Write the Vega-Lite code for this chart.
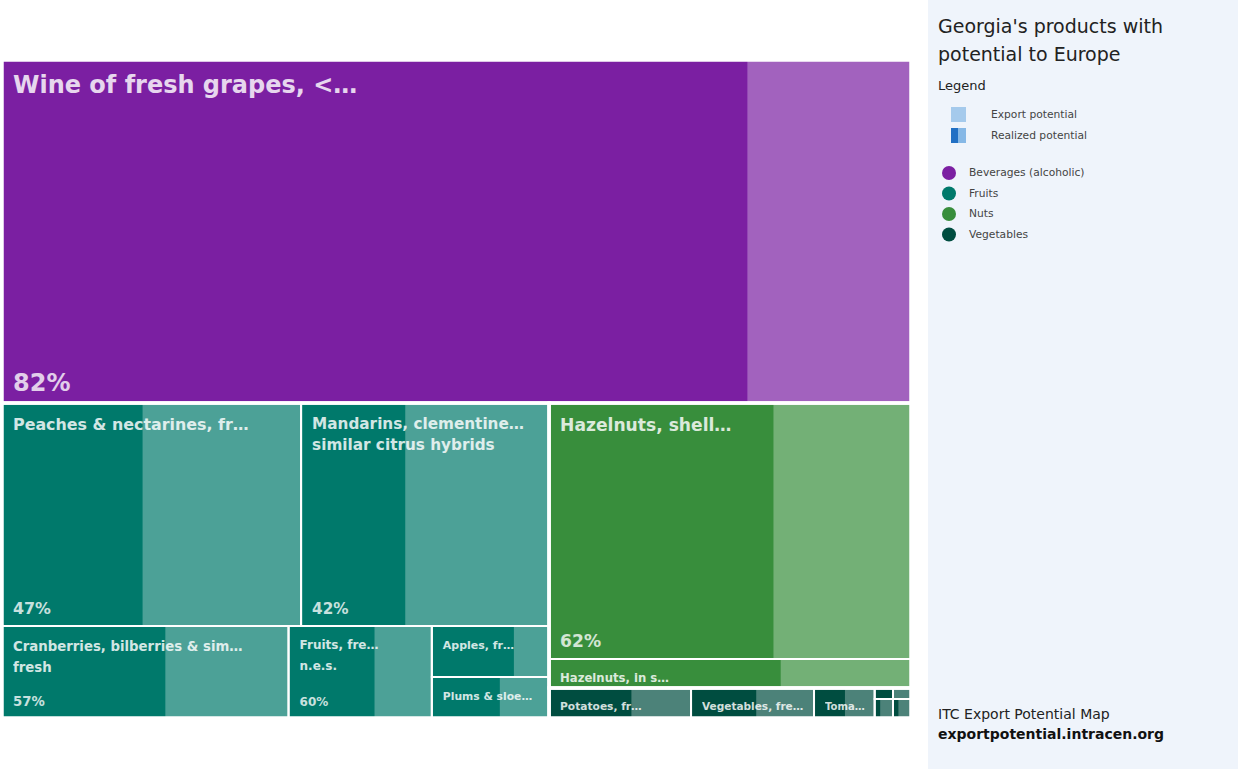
{
  "$schema": "https://vega.github.io/schema/vega-lite/v6.json",
  "padding": 0,
  "background": "#eff4fb",
  "spacing": 0,
  "bounds": "flush",
  "config": {"view": {"stroke": null}, "font": "DejaVu Sans"},
  "title": {
    "text": ["Georgia's products with", "potential to Europe"],
    "anchor": "start",
    "frame": "bounds",
    "orient": "top",
    "baseline": "top",
    "offset": 0,
    "dx": 938,
    "dy": 65,
    "fontSize": 19,
    "fontWeight": "normal",
    "font": "DejaVu Sans",
    "color": "#222222",
    "lineHeight": 28
  },
  "datasets": {
    "tiles": [
      {"name": "Wine of fresh grapes, <…", "cat": "Beverages (alcoholic)", "value": 311.8, "realized": 0.82, "band": 1, "col": 1, "row": 1, "cell": 1, "sub": 1},
      {"name": "Peaches & nectarines, fr…", "cat": "Fruits", "value": 66.7, "realized": 0.47, "band": 2, "col": 1, "row": 1, "cell": 1, "sub": 1},
      {"name": "Mandarins, clementine…\nsimilar citrus hybrids", "cat": "Fruits", "value": 55.3, "realized": 0.42, "band": 2, "col": 1, "row": 1, "cell": 2, "sub": 1},
      {"name": "Cranberries, bilberries & sim…\nfresh", "cat": "Fruits", "value": 26.4, "realized": 0.57, "band": 2, "col": 1, "row": 2, "cell": 1, "sub": 1},
      {"name": "Fruits, fre…\nn.e.s.", "cat": "Fruits", "value": 13.2, "realized": 0.60, "band": 2, "col": 1, "row": 2, "cell": 2, "sub": 1},
      {"name": "Apples, fr…", "cat": "Fruits", "value": 6.0, "realized": 0.70, "band": 2, "col": 1, "row": 2, "cell": 3, "sub": 1},
      {"name": "Plums & sloe…", "cat": "Fruits", "value": 4.8, "realized": 0.58, "band": 2, "col": 1, "row": 2, "cell": 3, "sub": 2},
      {"name": "Hazelnuts, shell…", "cat": "Nuts", "value": 92.7, "realized": 0.62, "band": 2, "col": 2, "row": 1, "cell": 1, "sub": 1},
      {"name": "Hazelnuts, in s…", "cat": "Nuts", "value": 10.5, "realized": 0.64, "band": 2, "col": 2, "row": 2, "cell": 1, "sub": 1},
      {"name": "Potatoes, fr…", "cat": "Vegetables", "value": 4.26, "realized": 0.58, "band": 2, "col": 2, "row": 3, "cell": 1, "sub": 1},
      {"name": "Vegetables, fre…", "cat": "Vegetables", "value": 3.69, "realized": 0.53, "band": 2, "col": 2, "row": 3, "cell": 2, "sub": 1},
      {"name": "Toma…", "cat": "Vegetables", "value": 1.82, "realized": 0.51, "band": 2, "col": 2, "row": 3, "cell": 3, "sub": 1},
      {"name": "", "cat": "Vegetables", "value": 0.2, "realized": 0.95, "band": 2, "col": 2, "row": 3, "cell": 4, "sub": 1},
      {"name": "", "cat": "Vegetables", "value": 0.35, "realized": 0.3, "band": 2, "col": 2, "row": 3, "cell": 4, "sub": 2},
      {"name": "", "cat": "Vegetables", "value": 0.2, "realized": 0.05, "band": 2, "col": 2, "row": 3, "cell": 5, "sub": 1},
      {"name": "", "cat": "Vegetables", "value": 0.34, "realized": 0.3, "band": 2, "col": 2, "row": 3, "cell": 5, "sub": 2}
    ]
  },
  "hconcat": [
    {
      "width": 928,
      "height": 769,
      "view": {"fill": "white", "stroke": null},
      "data": {"name": "tiles"},
      "transform": [
        {"window": [{"op": "sum", "field": "value", "as": "cum"}], "sort": [{"field": "band"}, {"field": "col"}, {"field": "row"}, {"field": "cell"}, {"field": "sub"}], "frame": [null, 0]},
        {"calculate": "datum.cum - datum.value", "as": "s0"},
        {"joinaggregate": [{"op": "sum", "field": "value", "as": "total"}]},
        {"joinaggregate": [{"op": "min", "field": "s0", "as": "bS"}, {"op": "sum", "field": "value", "as": "bT"}], "groupby": ["band"]},
        {"joinaggregate": [{"op": "min", "field": "s0", "as": "cS"}, {"op": "sum", "field": "value", "as": "cT"}], "groupby": ["band", "col"]},
        {"joinaggregate": [{"op": "min", "field": "s0", "as": "rS"}, {"op": "sum", "field": "value", "as": "rT"}], "groupby": ["band", "col", "row"]},
        {"joinaggregate": [{"op": "min", "field": "s0", "as": "eS"}, {"op": "sum", "field": "value", "as": "eT"}], "groupby": ["band", "col", "row", "cell"]},
        {"calculate": "datum.bS / datum.total", "as": "by0"},
        {"calculate": "datum.bT / datum.total", "as": "bh"},
        {"calculate": "(datum.cS - datum.bS) / datum.bT", "as": "cx0"},
        {"calculate": "datum.cT / datum.bT", "as": "cw"},
        {"calculate": "datum.by0 + (datum.rS - datum.cS) / datum.cT * datum.bh", "as": "ry0"},
        {"calculate": "datum.rT / datum.cT * datum.bh", "as": "rh"},
        {"calculate": "datum.cx0 + (datum.eS - datum.rS) / datum.rT * datum.cw", "as": "x0"},
        {"calculate": "datum.eT / datum.rT * datum.cw", "as": "tw"},
        {"calculate": "datum.ry0 + (datum.s0 - datum.eS) / datum.eT * datum.rh", "as": "y0"},
        {"calculate": "datum.value / datum.eT * datum.rh", "as": "th"},
        {"calculate": "datum.x0 + datum.tw", "as": "x1"},
        {"calculate": "datum.y0 + datum.th", "as": "y1"},
        {"calculate": "datum.x0 + datum.realized * datum.tw", "as": "xr"}
      ],
      "layer": [
        {
          "transform": [{"calculate": "'Export potential'", "as": "part"}],
          "mark": {"type": "rect"},
          "encoding": {
            "x": {"field": "x0", "type": "quantitative", "scale": {"domain": [-0.0022, 1.0187], "nice": false, "zero": false}, "axis": null},
            "x2": {"field": "x1"},
            "y": {"field": "y0", "type": "quantitative", "scale": {"domain": [-0.0912, 1.0775], "reverse": true, "nice": false, "zero": false}, "axis": null},
            "y2": {"field": "y1"},
            "color": {
              "field": "cat", "type": "nominal",
              "scale": {"domain": ["Beverages (alcoholic)", "Fruits", "Nuts", "Vegetables"], "range": ["#7b1fa2", "#00796b", "#388e3c", "#004d40"]},
              "legend": {"orient": "none", "legendX": 942, "legendY": 166, "title": null, "padding": 0, "symbolType": "circle", "symbolSize": 196, "symbolOpacity": 1, "symbolStrokeWidth": 0, "labelFontSize": 10.7, "labelColor": "#444444", "labelFont": "DejaVu Sans", "rowPadding": 6.5, "labelOffset": 13}
            },
            "opacity": {
              "field": "part", "type": "ordinal",
              "scale": {"domain": ["Export potential", "Realized potential"], "range": [0.7, 1]},
              "legend": {
                "orient": "none", "legendX": 938, "legendY": 80, "title": "Legend", "padding": 0,
                "titleFontSize": 13, "titleFontWeight": "normal", "titleColor": "#222222", "titleFont": "DejaVu Sans", "titlePadding": 14,
                "symbolType": "square", "symbolSize": 225, "symbolStrokeWidth": 0, "symbolOffset": 13,
                "labelOffset": 25, "labelFontSize": 10.7, "labelColor": "#444444", "labelFont": "DejaVu Sans", "rowPadding": 6,
                "encoding": {
                  "symbols": {
                    "fill": {
                      "condition": {"test": "datum.value === 'Realized potential'", "value": {"gradient": "linear", "x1": 0, "y1": 0, "x2": 1, "y2": 0, "stops": [{"offset": 0, "color": "#2270c4"}, {"offset": 0.47, "color": "#2270c4"}, {"offset": 0.47, "color": "#86b8e6"}, {"offset": 1, "color": "#86b8e6"}]}},
                      "value": "#86b8e6"
                    },
                    "opacity": {"value": 1}
                  }
                }
              }
            }
          }
        },
        {
          "transform": [{"calculate": "'Realized potential'", "as": "part"}],
          "mark": {"type": "rect"},
          "encoding": {
            "x": {"field": "x0", "type": "quantitative", "scale": {"domain": [-0.0022, 1.0187], "nice": false, "zero": false}, "axis": null},
            "x2": {"field": "xr"},
            "y": {"field": "y0", "type": "quantitative", "scale": {"domain": [-0.0912, 1.0775], "reverse": true, "nice": false, "zero": false}, "axis": null},
            "y2": {"field": "y1"},
            "color": {"field": "cat", "type": "nominal"},
            "opacity": {"field": "part", "type": "ordinal"}
          }
        },
        {
          "mark": {"type": "rect", "fillOpacity": 0, "stroke": "white", "strokeWidth": 2},
          "encoding": {
            "x": {"field": "x0", "type": "quantitative", "axis": null},
            "x2": {"field": "x1"},
            "y": {"field": "y0", "type": "quantitative", "axis": null},
            "y2": {"field": "y1"}
          }
        },
        {
          "transform": [
            {"aggregate": [{"op": "min", "field": "x0", "as": "gx0"}, {"op": "max", "field": "x1", "as": "gx1"}, {"op": "min", "field": "y0", "as": "gy0"}, {"op": "max", "field": "y1", "as": "gy1"}], "groupby": ["cat"]}
          ],
          "mark": {"type": "rect", "fillOpacity": 0, "stroke": "white", "strokeWidth": 3.5},
          "encoding": {
            "x": {"field": "gx0", "type": "quantitative", "axis": null},
            "x2": {"field": "gx1"},
            "y": {"field": "gy0", "type": "quantitative", "axis": null},
            "y2": {"field": "gy1"}
          }
        },
        {
          "transform": [{"filter": "datum.name != ''"}],
          "mark": {"type": "text", "align": "left", "baseline": "top", "dx": 11, "dy": 14, "fontWeight": "bold", "color": "white", "opacity": 0.82, "lineBreak": "\n", "lineHeight": 21, "font": "DejaVu Sans"},
          "encoding": {
            "x": {"field": "x0", "type": "quantitative", "axis": null},
            "y": {"field": "y0", "type": "quantitative", "axis": null},
            "text": {"field": "name", "type": "nominal"},
            "size": {"field": "value", "type": "quantitative", "scale": {"type": "sqrt", "domain": [1.66, 312], "range": [10, 24], "clamp": true}, "legend": null}
          }
        },
        {
          "transform": [{"filter": "datum.y1 - datum.y0 > 0.1"}],
          "mark": {"type": "text", "align": "left", "baseline": "alphabetic", "dx": 11, "dy": -12, "fontWeight": "bold", "color": "white", "opacity": 0.78, "font": "DejaVu Sans"},
          "encoding": {
            "x": {"field": "x0", "type": "quantitative", "axis": null},
            "y": {"field": "y1", "type": "quantitative", "axis": null},
            "text": {"field": "realized", "type": "quantitative", "format": ".0%"},
            "size": {"field": "value", "type": "quantitative", "legend": null}
          }
        }
      ]
    },
    {
      "width": 310,
      "height": 769,
      "data": {"values": []},
      "mark": "point",
      "title": {
        "text": "ITC Export Potential Map",
        "subtitle": "exportpotential.intracen.org",
        "orient": "bottom",
        "anchor": "start",
        "frame": "group",
        "baseline": "top",
        "offset": 0,
        "dx": 10,
        "dy": -61,
        "fontSize": 14,
        "fontWeight": "normal",
        "color": "#222222",
        "font": "DejaVu Sans",
        "subtitleFont": "DejaVu Sans",
        "subtitleFontSize": 14,
        "subtitleFontWeight": "bold",
        "subtitleColor": "#111111",
        "subtitlePadding": 6
      }
    }
  ]
}
